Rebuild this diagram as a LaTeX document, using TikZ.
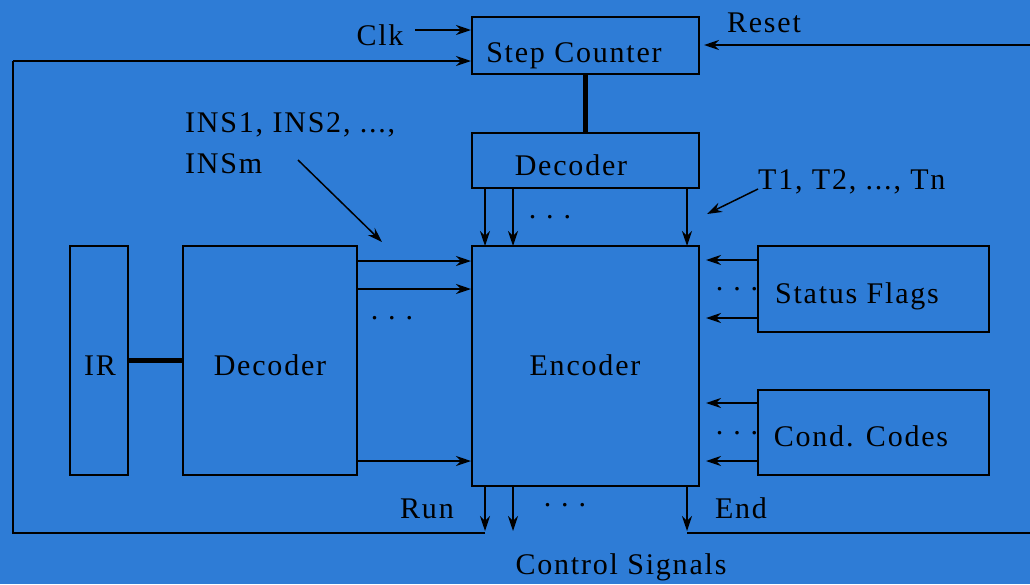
\documentclass[tikz,border=0pt]{standalone}
\usepackage{fontspec}
\setmainfont{Liberation Serif}[LetterSpace=6]
\usetikzlibrary{arrows.meta}
\definecolor{bgblue}{RGB}{46,124,214}
\tikzset{
  box/.style={draw=black, line width=2pt, inner sep=0pt},
  lbl/.style={anchor=base, inner sep=0pt, font=\fontsize{30}{34}\selectfont},
  dts/.style={inner sep=0pt, font=\fontsize{30}{34}\selectfont},
  wire/.style={line width=2pt, black},
  arr/.style={wire, -{Stealth[length=15pt,width=10pt,inset=5pt]}},
  thick wire/.style={line width=5pt, black},
}
\newcommand{\tdots}{.\hspace{10pt}.\hspace{10pt}.}
\begin{document}
\begin{tikzpicture}[x=1pt,y=-1pt]
\useasboundingbox[fill=bgblue] (0,0) rectangle (1030,584);
% boxes
\node[box, minimum width=227pt, minimum height=57pt] (sc) at (585.5,45.5) {};
\node[lbl] (sct) at (574,62) {Step Counter};
\node[box, minimum width=227pt, minimum height=55pt] (dt) at (585.5,160.5) {};
\node[lbl] (dtt) at (571,175) {Decoder};
\node[box, minimum width=227pt, minimum height=240pt] (enc) at (585.5,366) {};
\node[lbl] (enct) at (585,375) {Encoder};
\node[box, minimum width=58pt, minimum height=229pt] (ir) at (99,360.5) {};
\node[lbl] (irt) at (100,375) {IR};
\node[box, minimum width=174pt, minimum height=229pt] (dl) at (270,360.5) {};
\node[lbl] (dlt) at (270,375) {Decoder};
\node[box, minimum width=231pt, minimum height=86pt] (sf) at (873.5,289) {};
\node[lbl] (sft) at (857,303) {Status Flags};
\node[box, minimum width=231pt, minimum height=85pt] (cc) at (873.5,432.5) {};
\node[lbl] (cct) at (861,446) {Cond. Codes};
% labels
\node[lbl] (clk) at (380,45) {Clk};
\node[lbl] (reset) at (764,32) {Reset};
\node[lbl, anchor=base west] (ins1) at (185,132) {INS1, INS2, ...,};
\node[lbl, anchor=base west] (insm) at (185,173) {INSm};
\node[lbl, anchor=base west] (tn) at (758,189) {T1, T2, ..., Tn};
\node[lbl] (run) at (427,518) {Run};
\node[lbl] (end) at (741,518) {End};
\node[lbl] (cs) at (621,574) {Control Signals};
% dots
\node[dts] (d1) at (550,217) {\tdots};
\node[dts] (d2) at (392,318) {\tdots};
\node[dts] (d3) at (737,289) {\tdots};
\node[dts] (d4) at (737,433) {\tdots};
\node[dts] (d5) at (565,505) {\tdots};
% thick links
\draw[thick wire] (sc.south) -- (dt.north);
\draw[thick wire] (ir.east) -- (dl.west);
% coordinates
\coordinate (clks) at (415,30);
\coordinate (loopa) at (485,533);
\coordinate (loopb) at (13,533);
\coordinate (loopc) at (13,61);
\coordinate (ende) at (1035,533);
\coordinate (endb) at (687,533);
\coordinate (resets) at (1035,45);
\coordinate (inss) at (298,160);
\coordinate (inse) at (382,242);
\coordinate (ts) at (758,189);
\coordinate (te) at (707,214);
% Clk
\draw[arr] (clks) -- (clks -| sc.west);
% Reset
\draw[arr] (resets) -- ([xshift=4pt]resets -| sc.east);
% loop
\draw[wire] (loopa) -- (loopb) -- (loopc);
\draw[arr] (loopc) -- (loopc -| sc.west);
\draw[wire] (endb) -- (ende);
% label pointers
\draw[arr, line width=1.5pt] (inss) -- (inse);
\draw[arr, line width=1.5pt] (ts) -- (te);
% decoder -> encoder
\foreach \x in {485,513,687} {
  \draw[arr] (\x,188) -- (\x,246);
  \draw[arr] (\x,486) -- (\x,531);
}
\foreach \y in {261,289,461} {
  \draw[arr] (dl.east |- 0,\y) -- (enc.west |- 0,\y);
}
\foreach \y in {260,318} {
  \draw[arr] (sf.west |- 0,\y) -- ([xshift=6pt]enc.east |- 0,\y);
}
\foreach \y in {403,461} {
  \draw[arr] (cc.west |- 0,\y) -- ([xshift=6pt]enc.east |- 0,\y);
}
\end{tikzpicture}
\end{document}
